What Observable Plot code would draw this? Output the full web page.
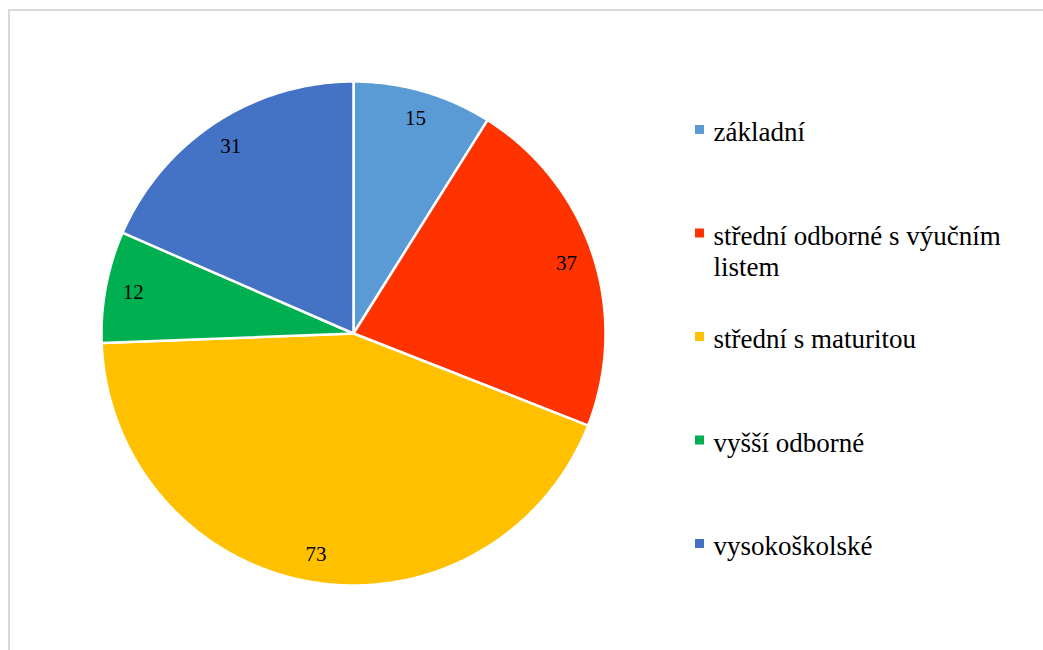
<!DOCTYPE html>
<html>
<head>
<meta charset="utf-8">
<script src="https://cdn.jsdelivr.net/npm/d3@7"></script>
<script src="https://cdn.jsdelivr.net/npm/@observablehq/plot@0.6"></script>
<style>
  html, body { margin: 0; padding: 0; background: #fff; overflow: hidden; }
  #wrap { position: relative; width: 1043px; height: 650px; overflow: hidden; }
  #frame { position: absolute; left: 8px; top: 9px; width: 1100px; height: 700px; border: 2px solid #d9d9d9; box-sizing: border-box; }
  #chart { position: absolute; left: 0; top: 0; }
</style>
</head>
<body>
<div id="wrap"><div id="frame"></div><div id="chart"></div></div>
<script>
const categories = ["základní", "střední odborné s výučním listem", "střední s maturitou", "vyšší odborné", "vysokoškolské"];
const legendLabels = ["základní", "střední odborné s výučním\nlistem", "střední s maturitou", "vyšší odborné", "vysokoškolské"];
const values = [15, 37, 73, 12, 31];
const colors = ["#5B9BD5", "#FF3300", "#FFC000", "#00B050", "#4472C4"];

// layout (pixels)
const W = 1043, H = 650, CX = 353, CY = 333, R = 252;
const toY = py => (CY - py) / R;
const toX = px => (px - CX) / R;
const FONT = "'Liberation Serif', 'Times New Roman', serif";

const arcs = d3.pie().sort(null).value(d => d)(values);

const slicePts = [];
arcs.forEach((a, i) => {
  const cat = categories[i];
  slicePts.push({cat, x: 0, y: 0});
  const n = Math.max(2, Math.ceil((a.endAngle - a.startAngle) / (Math.PI / 360)));
  for (let k = 0; k <= n; k++) {
    const t = a.startAngle + (a.endAngle - a.startAngle) * k / n;
    slicePts.push({cat, x: Math.sin(t), y: Math.cos(t)});
  }
  slicePts.push({cat, x: 0, y: 0});
});

const labelR = 0.89;
const labelData = arcs.map((a, i) => {
  const m = (a.startAngle + a.endAngle) / 2;
  return {x: labelR * Math.sin(m), y: labelR * Math.cos(m), text: String(values[i])};
});

const legendData = categories.map((c, i) => {
  const py = 129 + i * 103.5;
  return {cat: c, label: legendLabels[i], sy: toY(py), ty: toY(py - 10.3)};
});

const chart = Plot.plot({
  width: W, height: H, margin: 0,
  x: {domain: [toX(0), toX(W)], axis: null},
  y: {domain: [toY(H), toY(0)], axis: null},
  color: {domain: categories, range: colors},
  style: {fontFamily: FONT, background: "transparent"},
  marks: [
    Plot.line(slicePts, {x: "x", y: "y", z: "cat", fill: "cat", stroke: "white", strokeWidth: 2.5, strokeLinejoin: "round"}),
    Plot.text(labelData, {x: "x", y: "y", text: "text", fontSize: 21, fontFamily: FONT, fill: "#000"}),
    Plot.dot(legendData, {x: toX(699), y: "sy", symbol: "square", r: 5.1, fill: "cat", stroke: null}),
    Plot.text(legendData, {x: toX(713), y: "ty", text: "label", textAnchor: "start", lineAnchor: "top", fontSize: 27, fontFamily: FONT, lineHeight: 1.15, fill: "#000"})
  ]
});
document.getElementById("chart").appendChild(chart);
</script>
</body>
</html>
